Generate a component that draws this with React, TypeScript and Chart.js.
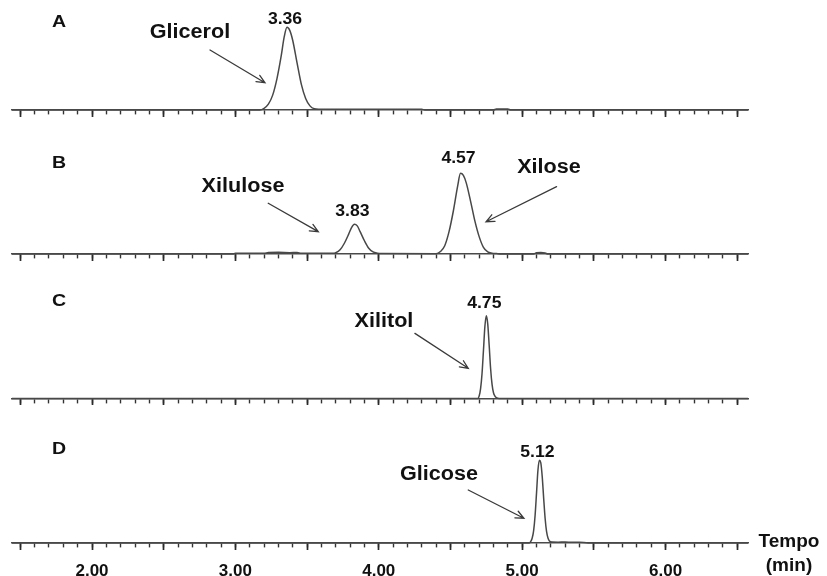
import { useEffect, useRef } from 'react';
import { Chart, registerables } from 'chart.js';

Chart.register(...registerables);

const WIDTH = 827;
const HEIGHT = 576;
const FONT_FAMILY = '"Liberation Sans", Arial, Helvetica, sans-serif';
const TEXT_COLOR = '#111111';
const TRACE_COLOR = '#484848';

// One chromatogram per panel
const panels = ['A', 'B', 'C', 'D'];

// Panel A: retention time (min) and detector response (relative units)
const timeA = [1.44, 3.17, 3.2, 3.23, 3.26, 3.29, 3.32, 3.34, 3.36, 3.38, 3.4, 3.43, 3.46, 3.49, 3.52, 3.55, 3.58, 4.3, 4.32, 4.8, 4.82, 4.9, 4.92, 6.58];
const signalA = [0, 0, 2, 7, 18, 38, 66, 88, 100, 96, 84, 57, 31, 14, 5, 1.5, 1, 1, 0, 0, 1.2, 1.2, 0, 0];

// Panel B
const timeB = [1.44, 2.98, 3.0, 3.2, 3.23, 3.3, 3.38, 3.43, 3.46, 3.68, 3.7, 3.73, 3.76, 3.79, 3.81, 3.83, 3.85, 3.87, 3.9, 3.93, 3.96, 3.99, 4.02, 4.4, 4.43, 4.46, 4.49, 4.52, 4.55, 4.57, 4.59, 4.61, 4.64, 4.67, 4.7, 4.73, 4.76, 4.79, 4.82, 4.85, 5.08, 5.1, 5.13, 5.16, 5.18, 6.58];
const signalB = [0, 0, 0.8, 0.8, 1.8, 2, 1.6, 1.8, 0.8, 0.8, 1.5, 5, 13, 24, 32, 36, 34, 27, 16, 7, 2.5, 1, 0.5, 0.3, 3, 10, 27, 52, 82, 97.5, 95, 86, 64, 40, 21, 8, 2.5, 1, 0.5, 0, 0, 1.5, 1.8, 1.2, 0, 0];

// Panel C
const timeC = [1.44, 4.69, 4.7, 4.71, 4.72, 4.73, 4.74, 4.75, 4.76, 4.77, 4.78, 4.79, 4.8, 4.81, 4.82, 4.84, 6.58];
const signalC = [0, 0, 3, 12, 30, 58, 87, 100, 90, 64, 36, 17, 7, 3, 1, 0, 0];

// Panel D
const timeD = [1.44, 5.05, 5.06, 5.07, 5.08, 5.09, 5.1, 5.11, 5.12, 5.13, 5.14, 5.15, 5.16, 5.17, 5.18, 5.19, 5.21, 5.25, 5.3, 5.35, 5.4, 5.46, 6.58];
const signalD = [0, 0, 2, 6, 15, 33, 60, 88, 100, 97, 80, 54, 30, 14, 6, 2.5, 1.2, 1, 1.2, 0.8, 1, 0, 0];

const traceTimes = [timeA, timeB, timeC, timeD];
const traceSignals = [signalA, signalB, signalC, signalD];

// Identified compounds, their panel and retention time (min)
const compoundNames = ['Glicerol', 'Xilulose', 'Xilose', 'Xilitol', 'Glicose'];
const compoundPanels = ['A', 'B', 'B', 'C', 'D'];
const retentionTimes = [3.36, 3.83, 4.57, 4.75, 5.12];

// Time axis
const tickStepMinor = 0.1;
const tickStepMajor = 0.5;
const xMin = 1.442;
const xMax = 6.575;

// ---- layout (pixels / data-space anchors) ----
const BASELINE_PX = [110, 254, 398.5, 543];
const PX_PER_UNIT = 0.827;
const AXIS_LEFT = 12;
const AXIS_RIGHT = 748;

const LETTER_T = 1.77;
const LETTER_V = [100.7, 103.6, 111.9, 107.6];
const NAME_ANCHORS = [
  { t: 2.683, v: 87 },
  { t: 3.053, v: 75.3 },
  { t: 5.187, v: 97.6 },
  { t: 4.036, v: 86.8 },
  { t: 4.42, v: 76.2 },
];
const ARROWS = [
  { from: [2.823, 72.6], to: [3.206, 33] },
  { from: [3.229, 61.3], to: [3.578, 27] },
  { from: [5.24, 81.4], to: [4.748, 39] },
  { from: [4.252, 78.8], to: [4.624, 36.5] },
  { from: [4.624, 64.1], to: [5.012, 29.9] },
];
const PEAK_LABEL_LIFT = [3, 8, 10, 8, 3];

function apexValue(panel: string, t: number): number {
  const i = panels.indexOf(panel);
  const k = traceTimes[i].indexOf(t);
  return k >= 0 ? traceSignals[i][k] : 0;
}

function drawText(ctx: CanvasRenderingContext2D, text: string, x: number, y: number, size: number, stretch: number) {
  ctx.save();
  ctx.font = `bold ${size}px ${FONT_FAMILY}`;
  ctx.textAlign = 'center';
  ctx.textBaseline = 'alphabetic';
  ctx.translate(x, y);
  ctx.scale(stretch, 1);
  ctx.fillText(text, 0, 0);
  ctx.restore();
}

function drawArrow(ctx: CanvasRenderingContext2D, x1: number, y1: number, x2: number, y2: number) {
  const ang = Math.atan2(y2 - y1, x2 - x1);
  const len = 9;
  const spread = 0.42;
  ctx.beginPath();
  ctx.moveTo(x1, y1);
  ctx.lineTo(x2, y2);
  ctx.moveTo(x2 - len * Math.cos(ang - spread), y2 - len * Math.sin(ang - spread));
  ctx.lineTo(x2, y2);
  ctx.lineTo(x2 - len * Math.cos(ang + spread), y2 - len * Math.sin(ang + spread));
  ctx.stroke();
}

const chromLabels = {
  id: 'chromLabels',
  afterDraw(chart: any) {
    const ctx: CanvasRenderingContext2D = chart.ctx;
    const xs = chart.scales.x;
    const px = (t: number) => xs.getPixelForValue(t);
    const py = (panel: string, v: number) => chart.scales['y' + panel].getPixelForValue(v);

    ctx.save();
    ctx.fillStyle = TEXT_COLOR;
    ctx.strokeStyle = '#3a3a3a';
    ctx.lineWidth = 1.3;
    ctx.lineCap = 'round';

    panels.forEach((p, i) => drawText(ctx, p, px(LETTER_T), py(p, LETTER_V[i]), 17, 1.15));

    compoundNames.forEach((name, i) => {
      const p = compoundPanels[i];
      const a = NAME_ANCHORS[i];
      drawText(ctx, name, px(a.t), py(p, a.v), 20, 1.08);
      const ar = ARROWS[i];
      drawArrow(ctx, px(ar.from[0]), py(p, ar.from[1]), px(ar.to[0]), py(p, ar.to[1]));
      const rt = retentionTimes[i];
      drawText(ctx, rt.toFixed(2), px(rt) - 2, py(p, apexValue(p, rt)) - PEAK_LABEL_LIFT[i], 16, 1.1);
    });

    const area = chart.chartArea;
    ctx.font = `bold 19px ${FONT_FAMILY}`;
    ctx.textAlign = 'center';
    ctx.textBaseline = 'alphabetic';
    ctx.fillText('Tempo', area.right + 41, 547);
    ctx.fillText('(min)', area.right + 41, 571);
    ctx.restore();
  },
};

function buildScales() {
  const scales: any = {};
  panels.forEach((p, i) => {
    const b = BASELINE_PX[i];
    scales['y' + p] = {
      type: 'linear',
      display: false,
      min: -(HEIGHT - b) / PX_PER_UNIT,
      max: b / PX_PER_UNIT,
    };
  });
  panels.forEach((p, i) => {
    const last = i === panels.length - 1;
    const position = { ['y' + p]: 0 };
    scales[i === 0 ? 'x' : 'xMinor' + p] = {
      type: 'linear',
      axis: 'x',
      min: xMin,
      max: xMax,
      position,
      grid: { display: true, drawOnChartArea: false, drawTicks: true, tickLength: 4, tickWidth: 1.4, tickColor: '#333333' },
      border: { display: true, color: '#4a4a4a', width: 1.4 },
      ticks: { stepSize: tickStepMinor, includeBounds: false, display: false },
    };
    scales['xMajor' + p] = {
      type: 'linear',
      axis: 'x',
      min: xMin,
      max: xMax,
      position,
      grid: { display: true, drawOnChartArea: false, drawTicks: true, tickLength: 7, tickWidth: 1.7, tickColor: '#2a2a2a' },
      border: { display: false },
      ticks: {
        stepSize: tickStepMajor,
        includeBounds: false,
        display: last,
        autoSkip: false,
        maxRotation: 0,
        padding: 0,
        color: TEXT_COLOR,
        font: { size: 17, weight: 'bold', family: FONT_FAMILY, lineHeight: 2.5 },
        callback: (v: number) => (Number.isInteger(v) ? v.toFixed(2) : ''),
      },
    };
  });
  return scales;
}

export default function App() {
  const ref = useRef<HTMLCanvasElement>(null);

  useEffect(() => {
    if (!ref.current) return;
    const datasets = panels.map((p, i) => ({
      label: p,
      data: traceTimes[i].map((t, k) => ({ x: t, y: traceSignals[i][k] })),
      xAxisID: 'x',
      yAxisID: 'y' + p,
      borderColor: TRACE_COLOR,
      borderWidth: 1.5,
      pointRadius: 0,
      fill: false,
      cubicInterpolationMode: 'monotone' as const,
    }));
    const chart = new Chart(ref.current, {
      type: 'line',
      data: { datasets },
      options: {
        responsive: false,
        animation: false,
        events: [],
        layout: { padding: { left: AXIS_LEFT, right: WIDTH - AXIS_RIGHT, top: 0, bottom: 0 } },
        plugins: { legend: { display: false }, tooltip: { enabled: false } },
        scales: buildScales(),
      },
      plugins: [chromLabels],
    });
    return () => chart.destroy();
  }, []);

  return (
    <div style={{ position: 'fixed', left: 0, top: 0, width: WIDTH, height: HEIGHT, background: '#ffffff' }}>
      <canvas ref={ref} width={WIDTH} height={HEIGHT} style={{ display: 'block' }} />
    </div>
  );
}
